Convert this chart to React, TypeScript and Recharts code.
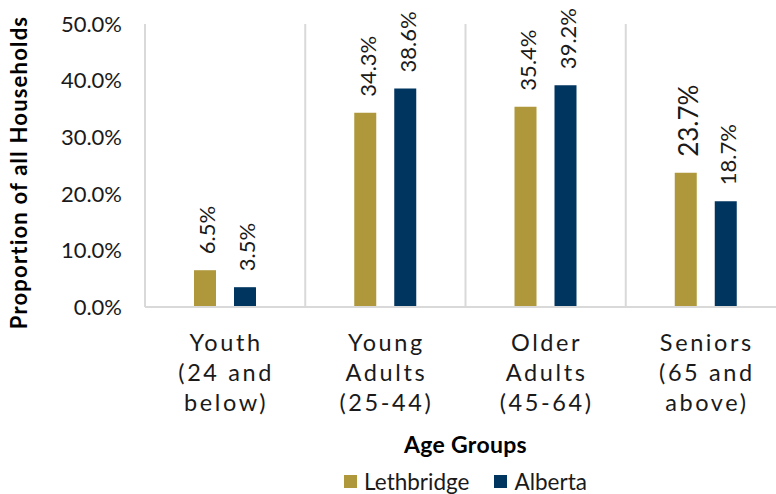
import { Bar, BarChart, CartesianGrid, LabelList, Legend, XAxis, YAxis } from "recharts";

const categories = ["Youth (24 and below)", "Young Adults (25-44)", "Older Adults (45-64)", "Seniors (65 and above)"];
const categoryLines = [
  ["Youth", "(24 and", "below)"],
  ["Young", "Adults", "(25-44)"],
  ["Older", "Adults", "(45-64)"],
  ["Seniors", "(65 and", "above)"],
];
const lethbridge = [6.5, 34.3, 35.4, 23.7];
const alberta = [3.5, 38.6, 39.2, 18.7];
const yTicks = [0, 10, 20, 30, 40, 50];

const GOLD = "#AF983B";
const NAVY = "#00355F";
const FONT = "Lato, 'Open Sans', sans-serif";

const data = categories.map((name, i) => ({
  name,
  Lethbridge: lethbridge[i],
  Alberta: alberta[i],
}));

function XTick({ x, y, index }: any) {
  const lines = categoryLines[index] ?? [];
  return (
    <text x={x} y={y} textAnchor="middle" fontFamily={FONT} fontSize={23.5} fill="#1a1a1a" letterSpacing={2.6}>
      {lines.map((l, i) => (
        <tspan key={i} x={x + 1} y={y + 44 + i * 30}>{l}</tspan>
      ))}
    </text>
  );
}

function BarValue({ x, y, width, value }: any) {
  const cx = Number(x) + Number(width) / 2 + 2;
  const ty = Number(y) - 16;
  const big = value === 23.7;
  return (
    <text x={cx} y={ty} transform={`rotate(-90 ${cx} ${ty})`} textAnchor="start" dominantBaseline="central"
      fontFamily={FONT} fontSize={big ? 26 : 22} fill="#1a1a1a">
      {`${Number(value).toFixed(1)}%`}
    </text>
  );
}

function YTitle({ viewBox }: any) {
  const cy = viewBox.y + viewBox.height / 2 + 7;
  return (
    <text x={18} y={cy} transform={`rotate(-90 18 ${cy})`} textAnchor="middle" dominantBaseline="central"
      fontFamily={FONT} fontSize={22} fontWeight={700} letterSpacing={1.2} fill="#000">
      Proportion of all Households
    </text>
  );
}

function LegendBox() {
  const items = [
    { label: "Lethbridge", color: GOLD },
    { label: "Alberta", color: NAVY },
  ];
  return (
    <div style={{ display: "flex", justifyContent: "center", gap: 25, fontFamily: FONT, fontSize: 22.5, color: "#1a1a1a" }}>
      {items.map((it) => (
        <div key={it.label} style={{ display: "flex", alignItems: "center", gap: 7, height: 27 }}>
          <span style={{ display: "inline-block", width: 13, height: 13, background: it.color }} />
          <span>{it.label}</span>
        </div>
      ))}
    </div>
  );
}

export default function App() {
  return (
    <div style={{ position: "absolute", left: 0, top: 0, width: 776, height: 494, overflow: "hidden", background: "#fff" }}>
      <BarChart width={800} height={494} data={data} margin={{ top: 24, right: 14, bottom: 37, left: 0 }}
        barSize={22} barGap={18}>
        <CartesianGrid horizontal={false} stroke="#d9d9d9" strokeWidth={2}
          verticalCoordinatesGenerator={({ offset }: any) =>
            [0, 1, 2, 3, 4].map((i) => offset.left + (i * offset.width) / 4)} />
        <XAxis dataKey="name" height={150} tickLine={false} tickSize={0} tickMargin={0} interval={0}
          axisLine={{ stroke: "#d9d9d9", strokeWidth: 2 }} tick={<XTick />}
          label={{ value: "Age Groups", position: "insideBottom", offset: 4, fontFamily: FONT, fontSize: 23, fontWeight: 700, fill: "#000", letterSpacing: 0.3 }} />
        <YAxis width={145} domain={[0, 50]} ticks={yTicks} axisLine={false} tickLine={false} tickSize={0} tickMargin={23}
          tickFormatter={(v: number) => `${v.toFixed(1)}%`}
          tick={{ fontFamily: FONT, fontSize: 22, fill: "#1a1a1a" }} label={YTitle} />
        <Legend layout="horizontal" verticalAlign="middle" align="center" content={<LegendBox />}
          wrapperStyle={{ top: 468, left: 145, width: 641 }} />
        <Bar dataKey="Lethbridge" fill={GOLD} isAnimationActive={false}>
          <LabelList dataKey="Lethbridge" content={<BarValue />} />
        </Bar>
        <Bar dataKey="Alberta" fill={NAVY} isAnimationActive={false}>
          <LabelList dataKey="Alberta" content={<BarValue />} />
        </Bar>
      </BarChart>
    </div>
  );
}
